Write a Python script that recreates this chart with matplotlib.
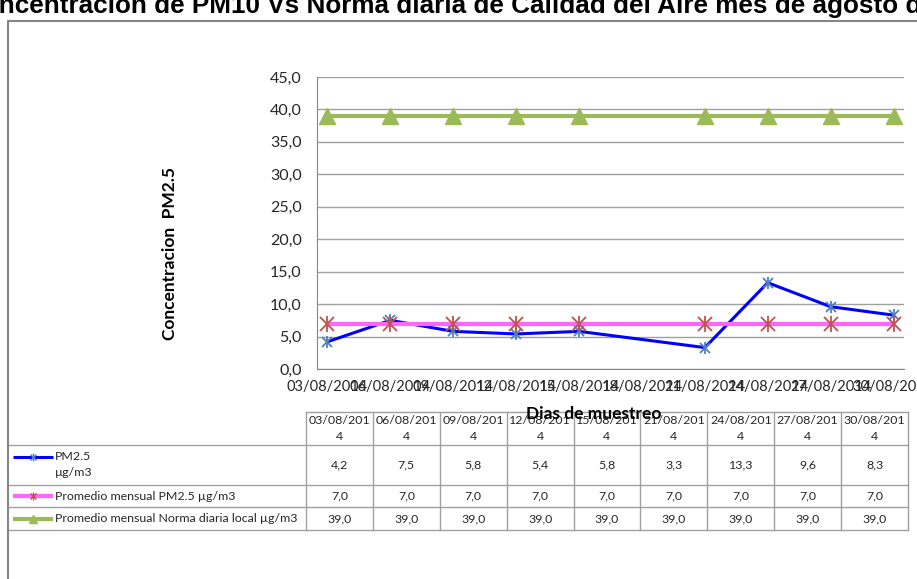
import datetime as dt
import matplotlib
matplotlib.use('Agg')
import matplotlib.pyplot as plt
import matplotlib.dates as mdates
from matplotlib.lines import Line2D
from matplotlib.ticker import FuncFormatter
import numpy as np

# datos del grafico
fechas = ['03/08/2014', '06/08/2014', '09/08/2014', '12/08/2014', '15/08/2014',
          '21/08/2014', '24/08/2014', '27/08/2014', '30/08/2014']
pm25 = [4.2, 7.5, 5.8, 5.4, 5.8, 3.3, 13.3, 9.6, 8.3]
promedio = [7.0, 7.0, 7.0, 7.0, 7.0, 7.0, 7.0, 7.0, 7.0]
norma = [39.0, 39.0, 39.0, 39.0, 39.0, 39.0, 39.0, 39.0, 39.0]
nombres = ['PM2.5\nµg/m3', 'Promedio mensual PM2.5 µg/m3',
           'Promedio mensual Norma diaria local µg/m3']
titulo = 'Concentración de PM10 Vs Norma diaria de Calidad del Aire mes de agosto de 2014'

W, H = 917, 579
fig = plt.figure(figsize=(W / 100, H / 100), dpi=100)
fig.patch.set_facecolor('white')


def fx(x):
    return x / W


def fy(y):
    return 1 - y / H


def fline(xs, ys, **kw):
    fig.add_artist(Line2D([fx(v) for v in xs], [fy(v) for v in ys],
                          transform=fig.transFigure, **kw))


FONT = 'Lato'
GRIS = '#A0A0A0'
TXT = '#262626'
TS = 8.9  # texto de la tabla

# estilo de cada serie: color linea, ancho, marcador, color marcador, tamano
estilos = [
    ('#0000FF', 2.2, 'star', '#4F81BD', 7),
    ('#FF66FF', 3.0, 'star', '#C0504D', 10),
    ('#9BBB59', 3.0, '^', '#9BBB59', 11),
]


def dibujar(axis, xs, ys, estilo):
    col, lw, mk, mcol, ms = estilo
    axis.plot(xs, ys, color=col, lw=lw, solid_capstyle='butt')
    if mk == 'star':
        axis.plot(xs, ys, ls='none', marker='x', ms=ms, mec=mcol, mew=1.3)
        axis.plot(xs, ys, ls='none', marker='|', ms=ms * 1.15, mec=mcol, mew=1.3)
    else:
        axis.plot(xs, ys, ls='none', marker=mk, ms=ms, mfc=mcol, mec=mcol)


# area de grafico
ax = fig.add_axes([fx(317), fy(369), fx(904) - fx(317), fy(77) - fy(369)])
x = [dt.datetime.strptime(f, '%d/%m/%Y') for f in fechas]
for serie, est in zip([pm25, promedio, norma], estilos):
    dibujar(ax, x, serie, est)

ax.set_ylim(0, 45)
ax.set_yticks(np.arange(0, 46, 5))
ax.yaxis.set_major_formatter(FuncFormatter(lambda v, p: f'{v:.1f}'.replace('.', ',')))
ax.set_xlim(dt.datetime(2014, 8, 2, 12), dt.datetime(2014, 8, 30, 12))
ax.xaxis.set_major_locator(mdates.DayLocator(bymonthday=range(3, 31, 3)))
ax.xaxis.set_major_formatter(mdates.DateFormatter('%d/%m/%Y'))
ax.grid(axis='y', color=GRIS, lw=1)
ax.set_axisbelow(True)
for s in ['top', 'right']:
    ax.spines[s].set_visible(False)
for s in ['left', 'bottom']:
    ax.spines[s].set_color('#868686')
ax.tick_params(axis='y', length=0, pad=11, labelsize=11.5, labelcolor=TXT)
ax.tick_params(axis='x', length=0, pad=8, labelsize=10.5, labelcolor=TXT)
for lab in ax.get_xticklabels() + ax.get_yticklabels():
    lab.set_fontfamily(FONT)

fig.text(fx(170), fy(254), 'Concentracion  PM2.5', rotation=90, ha='center', va='center',
         fontsize=12.5, fontweight='bold', family=FONT, color='black')

# tabla de datos
cx = np.linspace(306, 908, len(fechas) + 1)
ry = [412, 445, 485, 507, 530]
fline([cx[0], cx[-1]], [ry[0], ry[0]], color=GRIS, lw=1)
for yy in ry[1:]:
    fline([8, cx[-1]], [yy, yy], color=GRIS, lw=1)
for xx in cx:
    fline([xx, xx], [ry[0], ry[-1]], color=GRIS, lw=1)

for i, f in enumerate(fechas):
    xc = fx((cx[i] + cx[i + 1]) / 2)
    fig.text(xc, fy(421), f[:9], ha='center', va='center', fontsize=TS, family=FONT, color=TXT)
    fig.text(xc, fy(437), f[9:], ha='center', va='center', fontsize=TS, family=FONT, color=TXT)
    for j, serie in enumerate([pm25, promedio, norma]):
        yc = fy((ry[j + 1] + ry[j + 2]) / 2)
        fig.text(xc, yc, f'{serie[i]:.1f}'.replace('.', ','), ha='center', va='center',
                 fontsize=TS, family=FONT, color=TXT)

# claves de leyenda dentro de la tabla
key_y = [457, (ry[2] + ry[3]) / 2, (ry[3] + ry[4]) / 2]
for j, (nom, est) in enumerate(zip(nombres, estilos)):
    k = key_y[j]
    col, lw, mk, mcol, ms = est
    fline([13, 53], [k, k], color=col, lw=lw, solid_capstyle='butt')
    if mk == 'star':
        fline([33], [k], ls='none', marker='x', ms=5, mec=mcol, mew=1)
        fline([33], [k], ls='none', marker='|', ms=6, mec=mcol, mew=1)
    else:
        fline([33], [k], ls='none', marker=mk, ms=6, mfc=mcol, mec=mcol)
    for n, t in enumerate(nom.split('\n')):
        fig.text(fx(55), fy(k + 16 * n), t, ha='left', va='center', fontsize=TS,
                 family=FONT, color=TXT)

fig.text(fx(594), fy(414), 'Dias de muestreo', ha='center', va='center', fontsize=12.5,
         fontweight='bold', family=FONT, color='black')

# borde del area del grafico
fline([8, 8, W + 5], [H + 5, 21, 21], color='#868686', lw=1.5)

# titulo (desborda el area visible como en el original)
r = fig.canvas.get_renderer()
visible = titulo[2:titulo.index('agosto d') + 8]
probe = fig.text(0, 0, visible, fontsize=10, fontweight='bold', family='Liberation Sans')
w10 = probe.get_window_extent(renderer=r).width
probe.remove()
tsize = 10 * 922 / w10
pre = fig.text(0, 0, titulo[:2], fontsize=tsize, fontweight='bold', family='Liberation Sans')
w_pre = pre.get_window_extent(renderer=r).width
pre.remove()
fig.text(fx(-w_pre - 1), fy(6), titulo, ha='left', va='center', fontsize=tsize,
         fontweight='bold', family='Liberation Sans', color='black')

fig.savefig('out.png', dpi=100)
